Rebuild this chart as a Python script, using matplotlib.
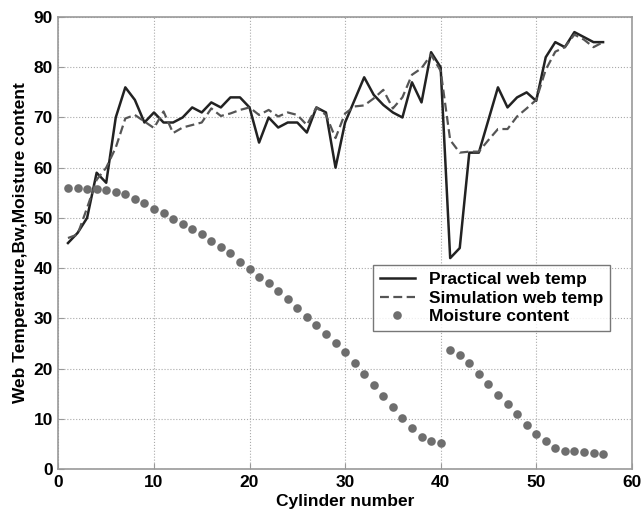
import matplotlib
matplotlib.use("Agg")
import matplotlib.pyplot as plt
import numpy as np

plt.rcParams['font.family'] = ['Liberation Sans', 'DejaVu Sans']
plt.rcParams['font.weight'] = 'bold'

#------ DADOS

cilindros = np.arange(1, 58)

practical = [45, 47, 50, 59, 57, 70, 76, 73.5, 69, 71, 69, 69, 70, 72, 71, 73, 72, 74, 74, 72,
             65, 70, 68, 69, 69, 67, 72, 71, 60, 69, 73.5, 78, 74.5, 72.5, 71, 70, 77, 73, 83, 80,
             42, 44, 63, 63, 69.5, 76, 72, 74, 75, 73.3, 82, 85, 84, 87, 86, 85, 85]

simulation = [46, 46.7, 52, 57.6, 60, 64, 69.8, 70.5, 69.2, 67.9, 71.2, 66.9, 68, 68.5, 69, 71.8, 70.3, 70.8, 71.5, 72,
              70.5, 71.5, 70.2, 71, 70.5, 68.5, 72, 70.5, 65.9, 70.8, 72.2, 72.4, 73.8, 75.5, 71.8, 74, 78.5, 79.8, 82.5, 79.3,
              65.5, 63, 63.2, 63.2, 65.5, 67.7, 67.7, 70.2, 71.8, 73.5, 79.5, 83.1, 84, 86.5, 85.5, 84, 85]

moisture = [55.9, 55.9, 55.8, 55.7, 55.6, 55.2, 54.7, 53.8, 52.9, 51.7, 50.9, 49.8, 48.8, 47.7, 46.7, 45.4, 44.3, 43, 41.3, 39.8,
            38.3, 37, 35.5, 33.8, 32, 30.2, 28.7, 26.8, 25, 23.4, 21.2, 18.9, 16.7, 14.5, 12.4, 10.1, 8.1, 6.4, 5.6, 5.1,
            23.8, 22.7, 21.2, 19, 16.9, 14.7, 12.9, 11, 8.8, 7, 5.6, 4.2, 3.6, 3.5, 3.4, 3.1, 3]

#------ GRÁFICO

fig = plt.figure(figsize=(6.42, 5.16), dpi=100)
ax = fig.add_axes([0.091, 0.091, 0.893, 0.876])

ax.plot(cilindros, practical, '-', color='#222222', lw=1.8, label='Practical web temp')
ax.plot(cilindros, simulation, '--', color='#555555', lw=1.6, dashes=(4, 2), label='Simulation web temp')
ax.plot(cilindros, moisture, 'o', color='#6e6e6e', ms=6.2, mec='none', label='Moisture content')

ax.set_xlim(0, 60)
ax.set_ylim(0, 90)
ax.set_xticks(range(0, 61, 10))
ax.set_yticks(range(0, 91, 10))
ax.grid(True, linestyle=':', color='#aaaaaa', lw=0.8)
ax.tick_params(direction='in', color='#999999', labelsize=12.5, length=4, pad=4)
for s in ax.spines.values():
    s.set_color('#999999')
    s.set_linewidth(1.2)

ax.set_xlabel('Cylinder number', fontsize=12.5, fontweight='bold', labelpad=3)
ax.set_ylabel('Web Temperature,Bw,Moisture content', fontsize=12.5, fontweight='bold', labelpad=4)

leg = ax.legend(loc='lower right', bbox_to_anchor=(0.962, 0.305), borderaxespad=0, fontsize=12.5,
                frameon=True, fancybox=False, handlelength=2.0, handletextpad=0.8, borderpad=0.4,
                labelspacing=0.2)
leg.get_frame().set_edgecolor('#555555')
leg.get_frame().set_linewidth(1.0)

fig.savefig('out.png', dpi=100)
